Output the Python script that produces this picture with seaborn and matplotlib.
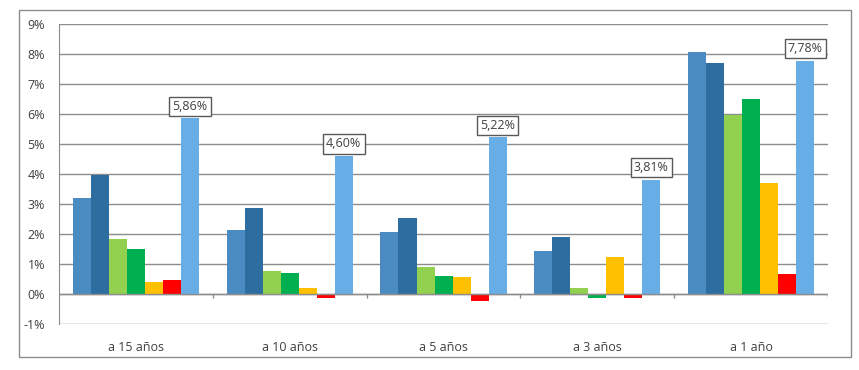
import pandas as pd
import matplotlib.pyplot as plt
import matplotlib.patches as patches
import seaborn as sns

# Data (values in %)
periodos = ['a 15 años', 'a 10 años', 'a 5 años', 'a 3 años', 'a 1 año']
series = ['Serie 1', 'Serie 2', 'Serie 3', 'Serie 4', 'Serie 5', 'Serie 6', 'Serie 7']
serie1 = [3.20, 2.13, 2.07, 1.43, 8.07]
serie2 = [3.98, 2.87, 2.53, 1.90, 7.70]
serie3 = [1.83, 0.77, 0.90, 0.20, 5.98]
serie4 = [1.50, 0.70, 0.60, -0.12, 6.50]
serie5 = [0.40, 0.21, 0.57, 1.23, 3.70]
serie6 = [0.47, -0.12, -0.22, -0.12, 0.67]
serie7 = [5.86, 4.60, 5.22, 3.81, 7.78]
colores = ['#4A8CC2', '#2E6DA0', '#92D050', '#00B050', '#FFC000', '#FF0000', '#67AEE6']

valores = [serie1, serie2, serie3, serie4, serie5, serie6, serie7]
rows = []
for s, vals in zip(series, valores):
    for p, v in zip(periodos, vals):
        rows.append({'Periodo': p, 'Serie': s, 'Valor': v})
df = pd.DataFrame(rows)

sns.set_style('white')
plt.rcParams['font.family'] = ['Open Sans', 'DejaVu Sans']

fig = plt.figure(figsize=(8.59, 3.70), dpi=100)
ax = fig.add_axes([0.0687, 0.1243, 0.8953, 0.8107])

sns.barplot(data=df, x='Periodo', y='Valor', hue='Serie', order=periodos,
            hue_order=series, palette=colores, width=0.82, gap=0,
            saturation=1, legend=False, ax=ax, edgecolor='none')

ax.set_ylim(-1, 9)
ax.set_xlim(-0.5, len(periodos) - 0.5)
ax.set_yticks(range(-1, 10))
ax.set_yticklabels([f'{t}%' for t in range(-1, 10)])
ax.yaxis.grid(True, color='#8C8C8C', linewidth=1)
ax.set_axisbelow(True)
ax.set_xlabel('')
ax.set_ylabel('')
ax.tick_params(axis='both', length=0, labelsize=9, colors='#404040')
ax.tick_params(axis='x', pad=12)
ax.tick_params(axis='y', pad=10)

for side in ['top', 'right', 'bottom']:
    ax.spines[side].set_visible(False)
ax.spines['left'].set_color('#8C8C8C')

# zero line with small ticks between groups
ax.axhline(0, color='#8C8C8C', linewidth=1, zorder=3)
limites = [i + 0.5 for i in range(len(periodos))]
ax.vlines(limites, -0.13, 0, color='#8C8C8C', linewidth=1, zorder=3)

# boxed labels on the last series
ax.bar_label(ax.containers[6], labels=[f'{v:.2f}%'.replace('.', ',') for v in serie7],
             padding=4, fontsize=9, color='#404040',
             bbox=dict(boxstyle='square,pad=0.25', facecolor='white', edgecolor='#595959', linewidth=1))

# outer chart border
fig.patches.append(patches.Rectangle((0.0221, 0.035), 0.9686, 0.938, transform=fig.transFigure,
                                     fill=False, edgecolor='#8C8C8C', linewidth=1))

fig.savefig('out.png', dpi=100)
